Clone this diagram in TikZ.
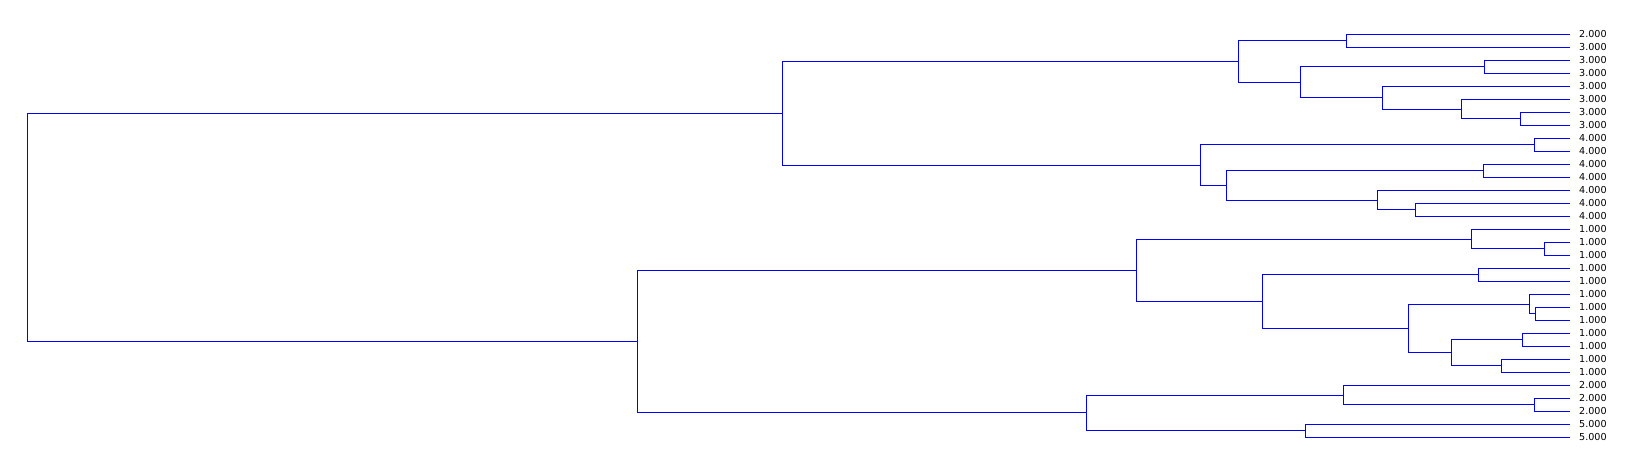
\documentclass[tikz,border=0pt]{standalone}
\usepackage{fontspec}
\setmainfont{DejaVu Sans}

\begin{document}
\begin{tikzpicture}[x=1pt,y=-13pt]
		\tikzset{
			leaf/.style={anchor=west,inner xsep=9pt,inner ysep=0pt,text=black,font=\fontsize{9.6}{10}\selectfont},
		}
		\tikzset{
			edge/.style={color=blue,line width=1pt},
		}
		\newcommand{\lx}{1570}
		
		\useasboundingbox (0,-2.638) rectangle (1636,33.67);
		
		\node[leaf] (l0) at (\lx, 0) {2.000};
		\node[leaf] (l1) at (\lx, 1) {3.000};
		\node[leaf] (l2) at (\lx, 2) {3.000};
		\node[leaf] (l3) at (\lx, 3) {3.000};
		\node[leaf] (l4) at (\lx, 4) {3.000};
		\node[leaf] (l5) at (\lx, 5) {3.000};
		\node[leaf] (l6) at (\lx, 6) {3.000};
		\node[leaf] (l7) at (\lx, 7) {3.000};
		
		\node[leaf] (l8) at (\lx, 8) {4.000};
		\node[leaf] (l9) at (\lx, 9) {4.000};
		\node[leaf] (l10) at (\lx, 10) {4.000};
		\node[leaf] (l11) at (\lx, 11) {4.000};
		\node[leaf] (l12) at (\lx, 12) {4.000};
		\node[leaf] (l13) at (\lx, 13) {4.000};
		\node[leaf] (l14) at (\lx, 14) {4.000};
		
		\node[leaf] (l15) at (\lx, 15) {1.000};
		\node[leaf] (l16) at (\lx, 16) {1.000};
		\node[leaf] (l17) at (\lx, 17) {1.000};
		\node[leaf] (l18) at (\lx, 18) {1.000};
		\node[leaf] (l19) at (\lx, 19) {1.000};
		\node[leaf] (l20) at (\lx, 20) {1.000};
		\node[leaf] (l21) at (\lx, 21) {1.000};
		\node[leaf] (l22) at (\lx, 22) {1.000};
		\node[leaf] (l23) at (\lx, 23) {1.000};
		\node[leaf] (l24) at (\lx, 24) {1.000};
		\node[leaf] (l25) at (\lx, 25) {1.000};
		\node[leaf] (l26) at (\lx, 26) {1.000};
		
		\node[leaf] (l27) at (\lx, 27) {2.000};
		\node[leaf] (l28) at (\lx, 28) {2.000};
		\node[leaf] (l29) at (\lx, 29) {2.000};
		\node[leaf] (l30) at (\lx, 30) {5.000};
		\node[leaf] (l31) at (\lx, 31) {5.000};
		
		\coordinate (n0-1) at (1346.7, 0.5);
		\coordinate (n2-3) at (1484.3, 2.5);
		\coordinate (n6-7) at (1520, 6.5);
		\coordinate (n5-7) at (1461.7, 5.75);
		\coordinate (n4-7) at (1382, 4.875);
		\coordinate (n2-7) at (1300, 3.6875);
		\coordinate (n0-7) at (1238.3, 2.09375);
		
		\coordinate (n8-9) at (1534.3, 8.5);
		\coordinate (n10-11) at (1483.3, 10.5);
		\coordinate (n13-14) at (1415.7, 13.5);
		\coordinate (n12-14) at (1377.7, 12.75);
		\coordinate (n10-14) at (1226.7, 11.625);
		\coordinate (n8-14) at (1200.7, 10.0625);
		
		\coordinate (n0-14) at (782.7, 6.078);
		
		\coordinate (n16-17) at (1544.3, 16.5);
		\coordinate (n15-17) at (1471.7, 15.75);
		\coordinate (n18-19) at (1478.3, 18.5);
		\coordinate (n21-22) at (1535.7, 21.5);
		\coordinate (n20-22) at (1529, 20.75);
		\coordinate (n23-24) at (1522.3, 23.5);
		\coordinate (n25-26) at (1501.7, 25.5);
		\coordinate (n23-26) at (1451.7, 24.5);
		\coordinate (n20-26) at (1408.7, 22.625);
		\coordinate (n18-26) at (1262.3, 20.5625);
		\coordinate (n15-26) at (1136.7, 18.156);
		
		\coordinate (n28-29) at (1534.3, 28.5);
		\coordinate (n27-29) at (1343, 27.75);
		\coordinate (n30-31) at (1305.7, 30.5);
		\coordinate (n27-31) at (1086.7, 29.125);
		
		\coordinate (n15-31) at (637.7, 23.64);
		\coordinate (root) at (27.7, 14.86);
		
		\draw[edge] (n0-1) |- (l0.west);
		\draw[edge] (n0-1) |- (l1.west);
		\draw[edge] (n2-3) |- (l2.west);
		\draw[edge] (n2-3) |- (l3.west);
		\draw[edge] (n6-7) |- (l6.west);
		\draw[edge] (n6-7) |- (l7.west);
		\draw[edge] (n5-7) |- (l5.west);
		\draw[edge] (n5-7) |- (n6-7);
		\draw[edge] (n4-7) |- (l4.west);
		\draw[edge] (n4-7) |- (n5-7);
		\draw[edge] (n2-7) |- (n2-3);
		\draw[edge] (n2-7) |- (n4-7);
		\draw[edge] (n0-7) |- (n0-1);
		\draw[edge] (n0-7) |- (n2-7);
		
		\draw[edge] (n8-9) |- (l8.west);
		\draw[edge] (n8-9) |- (l9.west);
		\draw[edge] (n10-11) |- (l10.west);
		\draw[edge] (n10-11) |- (l11.west);
		\draw[edge] (n13-14) |- (l13.west);
		\draw[edge] (n13-14) |- (l14.west);
		\draw[edge] (n12-14) |- (l12.west);
		\draw[edge] (n12-14) |- (n13-14);
		\draw[edge] (n10-14) |- (n10-11);
		\draw[edge] (n10-14) |- (n12-14);
		\draw[edge] (n8-14) |- (n8-9);
		\draw[edge] (n8-14) |- (n10-14);
		
		\draw[edge] (n0-14) |- (n0-7);
		\draw[edge] (n0-14) |- (n8-14);
		
		\draw[edge] (n16-17) |- (l16.west);
		\draw[edge] (n16-17) |- (l17.west);
		\draw[edge] (n15-17) |- (l15.west);
		\draw[edge] (n15-17) |- (n16-17);
		\draw[edge] (n18-19) |- (l18.west);
		\draw[edge] (n18-19) |- (l19.west);
		\draw[edge] (n21-22) |- (l21.west);
		\draw[edge] (n21-22) |- (l22.west);
		\draw[edge] (n20-22) |- (l20.west);
		\draw[edge] (n20-22) |- (n21-22);
		\draw[edge] (n23-24) |- (l23.west);
		\draw[edge] (n23-24) |- (l24.west);
		\draw[edge] (n25-26) |- (l25.west);
		\draw[edge] (n25-26) |- (l26.west);
		\draw[edge] (n23-26) |- (n23-24);
		\draw[edge] (n23-26) |- (n25-26);
		\draw[edge] (n20-26) |- (n20-22);
		\draw[edge] (n20-26) |- (n23-26);
		\draw[edge] (n18-26) |- (n18-19);
		\draw[edge] (n18-26) |- (n20-26);
		\draw[edge] (n15-26) |- (n15-17);
		\draw[edge] (n15-26) |- (n18-26);
		
		\draw[edge] (n28-29) |- (l28.west);
		\draw[edge] (n28-29) |- (l29.west);
		\draw[edge] (n27-29) |- (l27.west);
		\draw[edge] (n27-29) |- (n28-29);
		\draw[edge] (n30-31) |- (l30.west);
		\draw[edge] (n30-31) |- (l31.west);
		\draw[edge] (n27-31) |- (n27-29);
		\draw[edge] (n27-31) |- (n30-31);
		
		\draw[edge] (n15-31) |- (n15-26);
		\draw[edge] (n15-31) |- (n27-31);
		\draw[edge] (root) |- (n0-14);
		\draw[edge] (root) |- (n15-31);
	\end{tikzpicture}
\end{document}
